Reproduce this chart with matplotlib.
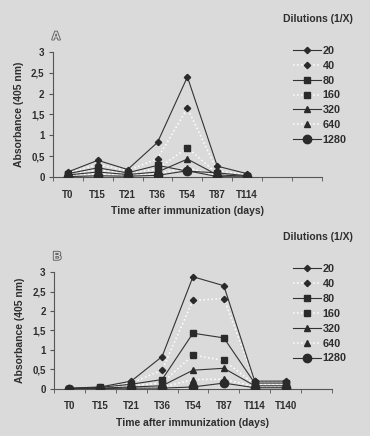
import matplotlib
matplotlib.use('Agg')
from matplotlib import pyplot as plt
import matplotlib.patheffects as pe

plt.rcParams['font.family'] = ['Liberation Sans', 'DejaVu Sans']

# data
dilutions = ['20', '40', '80', '160', '320', '640', '1280']
times_a = ['T0', 'T15', 'T21', 'T36', 'T54', 'T87', 'T114']
times_b = ['T0', 'T15', 'T21', 'T36', 'T54', 'T87', 'T114', 'T140']

abs_a = [
    [0.12, 0.40, 0.18, 0.83, 2.40, 0.26, 0.08],
    [0.10, 0.30, 0.15, 0.44, 1.65, 0.15, 0.05],
    [0.08, 0.22, 0.10, 0.28, 0.14, 0.10, 0.03],
    [0.06, 0.18, 0.08, 0.20, 0.70, 0.08, 0.03],
    [0.05, 0.12, 0.06, 0.12, 0.43, 0.05, 0.02],
    [0.03, 0.08, 0.04, 0.08, 0.22, 0.03, 0.01],
    [0.01, 0.03, 0.02, 0.04, 0.15, 0.01, 0.00],
]
abs_b = [
    [0.02, 0.05, 0.20, 0.83, 2.88, 2.65, 0.20, 0.20],
    [0.02, 0.04, 0.15, 0.48, 2.27, 2.32, 0.20, 0.18],
    [0.01, 0.04, 0.12, 0.24, 1.43, 1.31, 0.15, 0.15],
    [0.01, 0.03, 0.08, 0.15, 0.87, 0.73, 0.12, 0.12],
    [0.01, 0.02, 0.05, 0.08, 0.48, 0.53, 0.08, 0.08],
    [0.00, 0.02, 0.03, 0.04, 0.24, 0.25, 0.06, 0.06],
    [0.00, 0.01, 0.02, 0.02, 0.05, 0.15, 0.03, 0.03],
]

markers = ['D', 'D', 's', 's', '^', '^', 'o']
msizes = [3.2, 3.2, 5, 5, 4.8, 4.8, 6]
bg = '#dadada'
dark = '#2a2a2a'
txtc = '#2e2e2e'

fig = plt.figure(figsize=(3.7, 4.36), dpi=100, facecolor=bg)


def panel(rect, times, data, letter, legend_top):
    ax = fig.add_axes(rect, facecolor=bg)
    x = list(range(len(times)))
    for i, name in enumerate(dilutions):
        if i % 2 == 0:
            ax.plot(x, data[i], color='#333333', lw=0.8, marker=markers[i],
                    ms=msizes[i], mfc=dark, mec=dark, label=name, zorder=3)
        else:
            ax.plot(x, data[i], color='white', lw=1.1, ls=':', marker=markers[i],
                    ms=msizes[i], mfc=dark, mec=dark, label=name, zorder=2)
    ax.set_xlim(-0.5, 8.5)
    ax.set_ylim(0, 3)
    ax.set_yticks([0, 0.5, 1, 1.5, 2, 2.5, 3])
    ax.set_yticklabels(['0', '0,5', '1', '1,5', '2', '2,5', '3'])
    ax.set_xticks(x)
    ax.set_xticklabels(times)
    ax.set_xticks([k - 0.5 for k in range(10)], minor=True)
    ax.tick_params(axis='x', which='major', length=0, pad=9)
    ax.tick_params(axis='x', which='minor', length=3, color='#555555')
    ax.tick_params(axis='y', length=3, color='#555555', pad=3)
    for lab in ax.get_xticklabels() + ax.get_yticklabels():
        lab.set_fontsize(7)
        lab.set_fontweight('bold')
        lab.set_color(txtc)
    for s in ['top', 'right']:
        ax.spines[s].set_visible(False)
    for s in ['left', 'bottom']:
        ax.spines[s].set_color('#555555')
        ax.spines[s].set_linewidth(0.8)
    ax.set_ylabel('Absorbance (405 nm)', fontsize=7.5, fontweight='bold', color=txtc, labelpad=5)
    ax.set_xlabel('Time after immunization (days)', fontsize=7.5, fontweight='bold', color=txtc, labelpad=5)
    fig.text(0.86, legend_top + 0.052, 'Dilutions (1/X)', fontsize=7.5, fontweight='bold', color=txtc,
             ha='center', va='center')
    leg = ax.legend(loc='upper left', bbox_to_anchor=(0.78, legend_top), bbox_transform=fig.transFigure,
                    frameon=False, fontsize=7.8, handlelength=2.6, labelspacing=0.45, handletextpad=0.15,
                    borderaxespad=0)
    for t in leg.get_texts():
        t.set_fontweight('bold')
        t.set_color(txtc)
    txt = fig.text(rect[0] - 0.003, rect[1] + rect[3] + 0.035, letter, fontsize=8.5, fontweight='bold',
                   color=bg, ha='left', va='center')
    txt.set_path_effects([pe.Stroke(linewidth=1.2, foreground='#555555'), pe.Normal()])
    return ax


panel([0.143, 0.594, 0.727, 0.287], times_a, abs_a, 'A', 0.905)
panel([0.146, 0.108, 0.751, 0.268], times_b, abs_b, 'B', 0.404)

fig.savefig('out.png', dpi=100, facecolor=bg)
